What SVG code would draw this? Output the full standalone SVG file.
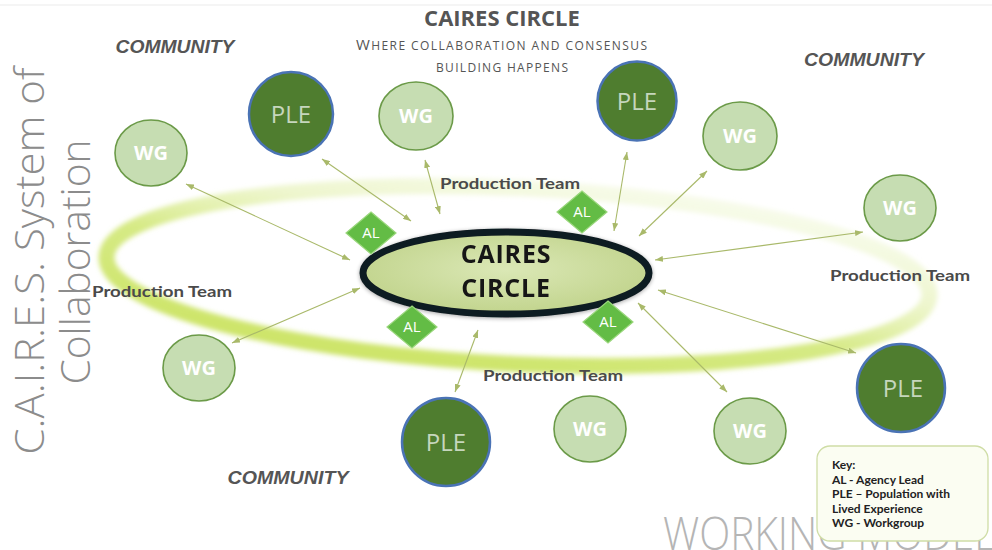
<svg xmlns="http://www.w3.org/2000/svg" width="992" height="550" viewBox="0 0 992 550">
  <defs>
    <style>
      .title { font-family: "Open Sans", "Liberation Sans", sans-serif; font-weight: 700; fill: #555; }
      .sub { font-family: "Open Sans", "Liberation Sans", sans-serif; fill: #555; }
      .community { font-family: "Liberation Sans", Arial, sans-serif; font-weight: 700; font-style: italic; font-size: 18px; fill: #555; text-anchor: middle; }
      .side { font-family: "Open Sans", "Liberation Sans", sans-serif; font-weight: 300; font-size: 40px; fill: #8c8c8c; text-anchor: middle; }
      .team { font-family: Lato, "Open Sans", sans-serif; font-weight: 700; font-size: 16px; fill: #4a4a4a; text-anchor: middle; }
      .ple circle { fill: #4f7d2f; stroke: #4a73b5; stroke-width: 2.5; }
      .ple text { font-family: "Open Sans", "Liberation Sans", sans-serif; font-size: 24px; fill: #c6d6bd; text-anchor: middle; }
      .wg ellipse { fill: #c6ddb2; stroke: #6b9a48; stroke-width: 1.6; }
      .wg text { font-family: "Open Sans", "Liberation Sans", sans-serif; font-weight: 700; font-size: 20px; fill: #ffffff; text-anchor: middle; }
      .al path { fill: #63bc45; stroke: #9ad77c; stroke-width: 1.2; }
      .al text { font-family: "Open Sans", "Liberation Sans", sans-serif; font-size: 15px; fill: #ffffff; text-anchor: middle; }
      .link { stroke: #a9b96a; stroke-width: 1.1; fill: none; marker-start: url(#tip); marker-end: url(#tip); }
      .key text { font-family: Lato, "Open Sans", sans-serif; font-weight: 700; font-size: 12px; fill: #222; }
    </style>
    <marker id="tip" viewBox="0 0 8 6" markerWidth="8" markerHeight="6" refX="8" refY="3" orient="auto-start-reverse" markerUnits="userSpaceOnUse">
      <path d="M0,0 L8,3 L0,6 z" fill="#a9b96a"/>
    </marker>
    <linearGradient id="ringGrad" x1="0.15" y1="1" x2="0.75" y2="0">
      <stop offset="0" stop-color="#cbe363"/>
      <stop offset="0.45" stop-color="#d4e97f" stop-opacity="0.95"/>
      <stop offset="0.7" stop-color="#e6f2b8" stop-opacity="0.7"/>
      <stop offset="1" stop-color="#f2f8dc" stop-opacity="0.55"/>
    </linearGradient>
    <radialGradient id="hubGrad" cx="0.5" cy="0.45" r="0.6">
      <stop offset="0" stop-color="#dbe8b6"/>
      <stop offset="1" stop-color="#bfd289"/>
    </radialGradient>
    <filter id="glow" x="-10%" y="-30%" width="120%" height="160%">
      <feGaussianBlur stdDeviation="2.5"/>
    </filter>
    <filter id="soft" x="-10%" y="-20%" width="120%" height="140%">
      <feGaussianBlur in="SourceAlpha" stdDeviation="2"/>
      <feOffset dx="0" dy="1"/>
      <feComponentTransfer><feFuncA type="linear" slope="0.35"/></feComponentTransfer>
      <feMerge><feMergeNode/><feMergeNode in="SourceGraphic"/></feMerge>
    </filter>
  </defs>

  <rect width="992" height="550" fill="#ffffff"/>
  <line x1="0" y1="5" x2="992" y2="5" stroke="#f2f2f2" stroke-width="1.5"/>

  <!-- glowing orbit -->
  <g id="orbit" filter="url(#glow)">
    <ellipse cx="518" cy="276" rx="412" ry="88" transform="rotate(2.7 518 276)" fill="none" stroke="url(#ringGrad)" stroke-width="16"/>
  </g>

  <!-- headings -->
  <g id="heading">
    <text class="title" x="502" y="26" font-size="22" text-anchor="middle">CAIRES CIRCLE</text>
    <text class="sub" x="356" y="50" textLength="291" lengthAdjust="spacing"><tspan font-size="15">W</tspan><tspan font-size="12">HERE COLLABORATION AND CONSENSUS</tspan></text>
    <text class="sub" x="436" y="72" font-size="12" textLength="132" lengthAdjust="spacing">BUILDING HAPPENS</text>
  </g>

  <g id="side-title">
    <text class="side" transform="translate(44 261) rotate(-90)" textLength="387" lengthAdjust="spacingAndGlyphs">C.A.I.R.E.S. System of</text>
    <text class="side" transform="translate(90 262) rotate(-90)" textLength="245" lengthAdjust="spacingAndGlyphs">Collaboration</text>
  </g>

  <g id="community-labels">
    <text class="community" x="175" y="53" textLength="119" lengthAdjust="spacingAndGlyphs">COMMUNITY</text>
    <text class="community" x="864" y="66" textLength="120" lengthAdjust="spacingAndGlyphs">COMMUNITY</text>
    <text class="community" x="288" y="484" textLength="121" lengthAdjust="spacingAndGlyphs">COMMUNITY</text>
  </g>

  <g id="team-labels">
    <text class="team" x="510" y="189" textLength="140" lengthAdjust="spacingAndGlyphs">Production Team</text>
    <text class="team" x="162" y="297" textLength="140" lengthAdjust="spacingAndGlyphs">Production Team</text>
    <text class="team" x="900" y="281" textLength="140" lengthAdjust="spacingAndGlyphs">Production Team</text>
    <text class="team" x="553" y="381" textLength="140" lengthAdjust="spacingAndGlyphs">Production Team</text>
  </g>

  <!-- connectors -->
  <g id="connectors">
    <line class="link" x1="186" y1="184" x2="350" y2="260"/>
    <line class="link" x1="322" y1="159" x2="411" y2="221"/>
    <line class="link" x1="425" y1="160" x2="440" y2="214"/>
    <line class="link" x1="627" y1="152" x2="614" y2="231"/>
    <line class="link" x1="707" y1="171" x2="639" y2="236"/>
    <line class="link" x1="863" y1="232" x2="655" y2="260"/>
    <line class="link" x1="658" y1="290" x2="856" y2="353"/>
    <line class="link" x1="638" y1="303" x2="727" y2="392"/>
    <line class="link" x1="478" y1="330" x2="455" y2="392"/>
    <line class="link" x1="360" y1="288" x2="232" y2="343"/>
  </g>

  <!-- central hub -->
  <g id="hub" filter="url(#soft)">
    <ellipse cx="506" cy="273" rx="143" ry="41" fill="url(#hubGrad)" stroke="#101b20" stroke-width="7"/>
    <text x="506" y="263" font-family="'Open Sans', 'Liberation Sans', sans-serif" font-weight="700" font-size="25" letter-spacing="0.8" fill="#161616" text-anchor="middle">CAIRES</text>
    <text x="506" y="297" font-family="'Open Sans', 'Liberation Sans', sans-serif" font-weight="700" font-size="25" letter-spacing="0.8" fill="#161616" text-anchor="middle">CIRCLE</text>
  </g>

  <!-- agency leads -->
  <g id="al-1" class="al"><path d="M371,212 L396,233 L371,254 L346,233 z"/><text x="371" y="238">AL</text></g>
  <g id="al-2" class="al"><path d="M582,191 L607,212 L582,233 L557,212 z"/><text x="582" y="217">AL</text></g>
  <g id="al-3" class="al"><path d="M412,306 L437,327 L412,348 L387,327 z"/><text x="412" y="332">AL</text></g>
  <g id="al-4" class="al"><path d="M608,301 L633,322 L608,343 L583,322 z"/><text x="608" y="327">AL</text></g>

  <!-- populations with lived experience -->
  <g id="ple-1" class="ple"><circle cx="291" cy="114" r="42"/><text x="291" y="123">PLE</text></g>
  <g id="ple-2" class="ple"><circle cx="637" cy="101" r="39.5"/><text x="637" y="110">PLE</text></g>
  <g id="ple-3" class="ple"><circle cx="901" cy="388" r="44"/><text x="903" y="397">PLE</text></g>
  <g id="ple-4" class="ple"><circle cx="446" cy="442" r="44"/><text x="446" y="451">PLE</text></g>

  <!-- workgroups -->
  <g id="wg-1" class="wg"><ellipse cx="151" cy="153" rx="36" ry="33"/><text x="151" y="160">WG</text></g>
  <g id="wg-2" class="wg"><ellipse cx="416" cy="116" rx="37" ry="34"/><text x="416" y="123">WG</text></g>
  <g id="wg-3" class="wg"><ellipse cx="740" cy="136" rx="37" ry="34"/><text x="740" y="143">WG</text></g>
  <g id="wg-4" class="wg"><ellipse cx="900" cy="208" rx="36" ry="33"/><text x="900" y="215">WG</text></g>
  <g id="wg-5" class="wg"><ellipse cx="199" cy="368" rx="36" ry="33"/><text x="199" y="375">WG</text></g>
  <g id="wg-6" class="wg"><ellipse cx="590" cy="429" rx="36" ry="33"/><text x="590" y="436">WG</text></g>
  <g id="wg-7" class="wg"><ellipse cx="750" cy="431" rx="36" ry="33"/><text x="750" y="438">WG</text></g>

  <!-- watermark, partly hidden by the key -->
  <text x="663" y="550" font-family="'Open Sans', 'Liberation Sans', sans-serif" font-weight="300" font-size="46" fill="#b5b5b5" textLength="332" lengthAdjust="spacingAndGlyphs">WORKING MODEL</text>

  <!-- key -->
  <g id="key" class="key">
    <rect x="817" y="446" width="171" height="95" rx="13" fill="#fbfdf2" stroke="#cfdda6" stroke-width="1.3"/>
    <text x="832" y="469">Key:</text>
    <text x="832" y="484">AL - Agency Lead</text>
    <text x="832" y="498">PLE – Population with</text>
    <text x="832" y="513">Lived Experience</text>
    <text x="832" y="527">WG - Workgroup</text>
  </g>
</svg>
